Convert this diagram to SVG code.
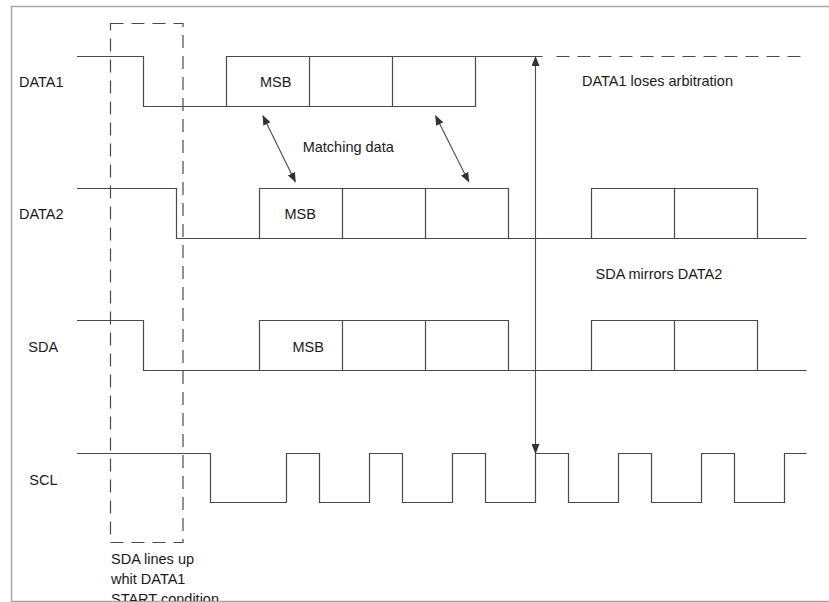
<svg xmlns="http://www.w3.org/2000/svg" width="829" height="602" viewBox="0 0 829 602">
<style>
.sig{fill:none;stroke:#4a4a4a;stroke-width:1.2}
.dash{fill:none;stroke:#4a4a4a;stroke-width:1.2;stroke-dasharray:13 8}
.lbl{font-family:"Liberation Sans",Arial,sans-serif;font-size:14.5px;fill:#1a1a1a}
.arr{fill:none;stroke:#4a4a4a;stroke-width:1.1}
</style>
<defs>
<marker id="ah" markerUnits="userSpaceOnUse" markerWidth="10" markerHeight="8" refX="9" refY="4" orient="auto-start-reverse" viewBox="0 0 10 8">
<path d="M0,0 L10,4 L0,8 Z" fill="#333"/>
</marker>
<clipPath id="clipB"><rect x="0" y="0" width="829" height="601"/></clipPath>
</defs>
<rect x="0" y="0" width="829" height="602" fill="#fff"/>
<rect x="11.5" y="6.5" width="830" height="595" fill="none" stroke="#a6a6a6" stroke-width="1.5"/>

<g id="start-box">
<rect class="dash" x="110.5" y="23.5" width="72.5" height="519"/>
<g clip-path="url(#clipB)">
<text class="lbl" x="111" y="563.5">SDA lines up</text>
<text class="lbl" x="111" y="583.5">whit DATA1</text>
<text class="lbl" x="111" y="603.5">START condition</text>
</g>
</g>

<g id="data1">
<text class="lbl" x="19" y="87">DATA1</text>
<path class="sig" d="M77,56.5 H143.5 V106.5 H475.5 V56.5 M226.5,106.5 V56.5 H542.5 M309.5,56.5 V106.5 M392.5,56.5 V106.5"/>
<path class="dash" d="M556.5,56.5 H806" stroke-dasharray="14 7"/>
<text class="lbl" x="260" y="87">MSB</text>
<text class="lbl" x="582" y="86">DATA1 loses arbitration</text>
</g>

<g id="data2">
<text class="lbl" x="19" y="218.7">DATA2</text>
<path class="sig" d="M77,188.5 H176.5 V238.5 H806.7 M259.5,238.5 V188.5 H508.5 V238.5 M342.5,188.5 V238.5 M425.5,188.5 V238.5 M591.5,238.5 V188.5 H757.5 V238.5 M674.5,188.5 V238.5"/>
<text class="lbl" x="284.5" y="218.7">MSB</text>
<text class="lbl" x="595.5" y="278.7">SDA mirrors DATA2</text>
</g>

<g id="sda">
<text class="lbl" x="28.3" y="351.7">SDA</text>
<path class="sig" d="M77,320.5 H143.5 V370.5 H806.7 M259.5,370.5 V320.5 H508.5 V370.5 M342.5,320.5 V370.5 M425.5,320.5 V370.5 M591.5,370.5 V320.5 H757.5 V370.5 M674.5,320.5 V370.5"/>
<text class="lbl" x="292.5" y="351.7">MSB</text>
</g>

<g id="scl">
<text class="lbl" x="29.3" y="485">SCL</text>
<path class="sig" d="M77,453.5 H210.5 V502.5 H286.5 V453.5 H319.5 V502.5 H369.5 V453.5 H402.5 V502.5 H452.5 V453.5 H485.5 V502.5 H535.5 V453.5 H568.5 V502.5 H618.5 V453.5 H651.5 V502.5 H701.5 V453.5 H734.5 V502.5 H784.5 V453.5 H806.7"/>
</g>

<g id="connectors">
<line class="arr" x1="535.5" y1="57" x2="535.5" y2="453" marker-start="url(#ah)" marker-end="url(#ah)"/>
<line class="arr" x1="263" y1="116" x2="295.3" y2="181.7" marker-start="url(#ah)" marker-end="url(#ah)"/>
<line class="arr" x1="435.7" y1="116" x2="468.7" y2="181.7" marker-start="url(#ah)" marker-end="url(#ah)"/>
<text class="lbl" x="302.7" y="152">Matching data</text>
</g>
</svg>
